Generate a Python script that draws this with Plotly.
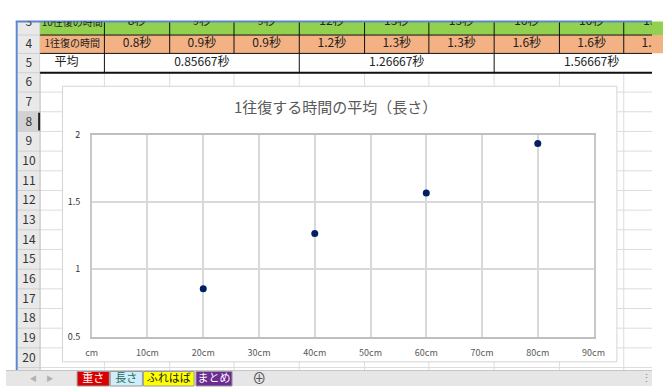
import plotly.graph_objects as go

# ---------------- data ----------------
lengths_cm = [20, 40, 60, 80]
avg_time_s = [0.85667, 1.26667, 1.56667, 1.93333]
x_tick_vals = [0, 10, 20, 30, 40, 50, 60, 70, 80, 90]
x_tick_text = ["cm", "10cm", "20cm", "30cm", "40cm", "50cm", "60cm", "70cm", "80cm", "90cm"]
y_tick_vals = [0.5, 1, 1.5, 2]
y_tick_text = ["0.5", "1", "1.5", "2"]
title_text = "1往復する時間の平均（長さ）"

row3_label = "10往復の時間"
row3_values = ["8秒", "9秒", "9秒", "12秒", "13秒", "13秒", "16秒", "16秒", "15秒"]
row4_label = "1往復の時間"
row4_values = ["0.8秒", "0.9秒", "0.9秒", "1.2秒", "1.3秒", "1.3秒", "1.6秒", "1.6秒", "1.5秒"]
row5_label = "平均"
row5_values = ["0.85667秒", "1.26667秒", "1.56667秒"]
row_numbers = list(range(3, 21))
sheet_tabs = ["重さ", "長さ", "ふれはば", "まとめ"]

# ---------------- layout constants (pixels) ----------------
W, H = 663, 392
FONT = "Noto Sans CJK JP"
col_edges = [35, 101, 168, 234, 301, 368, 434, 501, 568, 634, 700]
row_bottoms = [29, 48, 68] + [88 + 20.35 * k for k in range(15)]  # rows 3..20
row_tops = [10] + row_bottoms[:-1]
chart_box = (58, 82, 627, 367)
plot_box = (88, 132, 603, 341)
tab_top = 376
tab_spans = [(73, 106), (107, 140), (141, 193), (195, 232)]
tab_fill = ["#d80000", "#cdeefa", "#ffff00", "#6a2c91"]
tab_font = ["white", "#2a6a5a", "#222222", "white"]


def px(x):
    return x / W


def py(y):
    return 1 - y / H


shapes = []


def rect(x0, y0, x1, y1, fill, line=None, lw=0):
    shapes.append(dict(type="rect", xref="paper", yref="paper", layer="below",
                       x0=px(x0), x1=px(x1), y0=py(y1), y1=py(y0),
                       fillcolor=fill,
                       line=dict(color=line or "rgba(0,0,0,0)", width=lw)))


def line(x0, y0, x1, y1, color, lw=1):
    shapes.append(dict(type="line", xref="paper", yref="paper", layer="below",
                       x0=px(x0), x1=px(x1), y0=py(y0), y1=py(y1),
                       line=dict(color=color, width=lw)))


# sheet background gridlines
for yb in row_bottoms:
    line(35, yb, W, yb, "#dcdcdc", 1)
for xe in col_edges[1:]:
    line(xe, 15, xe, tab_top, "#dcdcdc", 1)

# row header column
rect(12, 15, 35, tab_top, "#e9e9e9")
rect(12, row_tops[5], 35, row_bottoms[5], "#d2d2d2")  # row 8 selected
for yb in row_bottoms:
    line(12, yb, 35, yb, "#cfcfcf", 1)
line(35, 15, 35, tab_top, "#bdbdbd", 1)
line(34, row_tops[5] + 1, 34, row_bottoms[5] - 1, "#222222", 2)

# table rows 3-5
rect(35, 15, W + 40, row_bottoms[0], "#92d050")
rect(35, row_bottoms[0], W + 40, row_bottoms[1], "#f4b183")
rect(35, row_bottoms[1], W + 40, row_bottoms[2], "white")
for xe in col_edges[1:]:
    line(xe, 15, xe, row_bottoms[1], "#111111", 1)
for xe in [col_edges[1], col_edges[4], col_edges[7]]:
    line(xe, row_bottoms[1], xe, row_bottoms[2], "#111111", 1)
line(35, row_bottoms[0], W, row_bottoms[0], "#111111", 1)
line(35, row_bottoms[1], W, row_bottoms[1], "#111111", 1)
line(35, row_bottoms[2], W, row_bottoms[2], "#111111", 2)

# blue window edges
line(10, 15, W, 15, "#5b87d0", 2)
line(11, 15, 11, tab_top, "#5b87d0", 2)

# chart area
rect(*chart_box, "white", "#d4d4d4", 1)

# tab bar
rect(0, tab_top, W, H, "#e6e6e6")
line(0, tab_top, W, tab_top, "#c6c6c6", 1)
for (a, b), f in zip(tab_spans, tab_fill):
    rect(a, tab_top + 1, b, H, f, "#9a9a9a", 1)

# ---------------- figure ----------------
fig = go.Figure()

fig.add_trace(go.Scatter(
    x=lengths_cm, y=avg_time_s, mode="markers",
    marker=dict(color="#002060", size=7),
    xaxis="x", yaxis="y", showlegend=False, hoverinfo="x+y"))


def add_text_group(items, size, color):
    fig.add_trace(go.Scatter(
        x=[i[0] for i in items], y=[i[1] for i in items], text=[i[2] for i in items],
        mode="text", textposition="middle center",
        textfont=dict(family=FONT, size=size, color=color),
        xaxis="x2", yaxis="y2", showlegend=False, hoverinfo="skip", cliponaxis=True))


rownum_items = [(23.5, (t + b) / 2 + (1 if i > 0 else 0), str(r))
                for i, (r, t, b) in enumerate(zip(row_numbers, row_tops, row_bottoms))]
rownum_items[0] = (23.5, 17, str(row_numbers[0]))
add_text_group(rownum_items, 12, "#333333")

centers = [(col_edges[i] + col_edges[i + 1]) / 2 for i in range(1, 10)]
add_text_group([(c, 16, v) for c, v in zip(centers, row3_values)], 12, "#222222")
add_text_group([(68, 17, row3_label)], 10, "#222222")
add_text_group([(c, 38.5, v) for c, v in zip(centers, row4_values)], 12, "#222222")
add_text_group([(68, 38.5, row4_label)], 10, "#222222")
merged = [(col_edges[1] + col_edges[4]) / 2, (col_edges[4] + col_edges[7]) / 2,
          (col_edges[7] + col_edges[7] + 200) / 2]
add_text_group([(c, 58, v) for c, v in zip(merged, row5_values)], 12, "#222222")
add_text_group([(62, 58, row5_label)], 12, "#222222")

for (a, b), name, fc in zip(tab_spans, sheet_tabs, tab_font):
    add_text_group([((a + b) / 2, 385, name)], 11, fc)
add_text_group([(28, 385, "◀"), (45, 385, "▶")], 7, "#b0b0b0")
add_text_group([(260, 385, "⊕")], 14, "#555555")
add_text_group([(657, 385, "⋮")], 11, "#888888")

fig.add_annotation(xref="paper", yref="paper", x=px(338), y=py(103),
                   text=title_text, showarrow=False, xanchor="center", yanchor="middle",
                   font=dict(family=FONT, size=15, color="#595959"))

fig.update_layout(
    width=W, height=H, autosize=False,
    margin=dict(l=0, r=0, t=0, b=0, pad=0),
    paper_bgcolor="white", plot_bgcolor="rgba(0,0,0,0)",
    font=dict(family=FONT),
    shapes=shapes,
    xaxis=dict(domain=[px(plot_box[0]), px(plot_box[2])], range=[0, 90],
               tickmode="array", tickvals=x_tick_vals, ticktext=x_tick_text,
               showgrid=True, gridcolor="#d9d9d9", gridwidth=1.5,
               showline=True, mirror=True, linecolor="#bfbfbf", linewidth=1.5,
               zeroline=False, ticks="outside", ticklen=7, tickcolor="rgba(0,0,0,0)",
               tickfont=dict(family=FONT, size=9, color="#595959"), fixedrange=True,
               anchor="y"),
    yaxis=dict(domain=[py(plot_box[3]), py(plot_box[1])], range=[0.5, 2],
               tickmode="array", tickvals=y_tick_vals, ticktext=y_tick_text,
               showgrid=True, gridcolor="#d9d9d9", gridwidth=1.5,
               showline=True, mirror=True, linecolor="#c8c8c8", linewidth=1.5,
               zeroline=False, ticks="outside", ticklen=8, tickcolor="rgba(0,0,0,0)",
               tickfont=dict(family=FONT, size=9, color="#333333"), fixedrange=True,
               anchor="x"),
    xaxis2=dict(domain=[0, 1], range=[0, W], visible=False, anchor="y2", fixedrange=True),
    yaxis2=dict(domain=[0, py(15)], range=[H, 15], visible=False, anchor="x2", fixedrange=True),
)

fig.write_html("out.html")
